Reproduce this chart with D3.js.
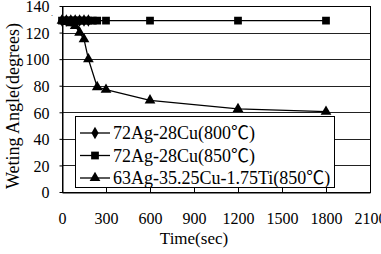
<!DOCTYPE html>
<head>
<meta charset="utf-8">
<style>
  body { margin: 0; background: #fff; }
  svg text { font-family: 'Liberation Serif', 'Noto Sans CJK TC', serif !important; fill: #000; }
  .grid line { stroke: #222; stroke-width: 1; }
  .axis path, .axis line { stroke: #000; }
</style>
<title>Wetting angle vs time</title>
</head>
<body>
<svg width="381" height="254"></svg>
<script src="https://cdn.jsdelivr.net/npm/d3@7"></script>
<script>

// data
var times800 = [0, 30, 60, 90, 120, 150, 180];
var angle800 = [129, 129, 129, 129, 129, 129, 129];

var times850 = [0, 15, 30, 45, 60, 75, 90, 105, 120, 150, 180, 210, 240, 300, 600, 1200, 1800];
var angle850 = [129, 129, 129, 129, 129, 129, 129, 129, 129, 129, 129, 129, 129, 129, 129, 129, 129];

var timesTi = [0, 30, 60, 90, 120, 150, 180, 240, 300, 600, 1200, 1800];
var angleTi = [129, 128, 127, 125, 120, 115, 100, 79, 77, 69, 62.5, 60.5];

var seriesNames = ["72Ag-28Cu(800℃)", "72Ag-28Cu(850℃)", "63Ag-35.25Cu-1.75Ti(850℃)"];
var xTicks = [0, 300, 600, 900, 1200, 1500, 1800, 2100];
var yTicks = [0, 20, 40, 60, 80, 100, 120, 140];

var svg = d3.select("svg"),
    margin = {top: 6, right: 11, bottom: 62, left: 62},
    width = +svg.attr("width") - margin.left - margin.right,
    height = +svg.attr("height") - margin.top - margin.bottom;

var x = d3.scaleLinear().domain([0, 2100]).range([0, width]),
    y = d3.scaleLinear().domain([0, 140]).range([height, 0]);

var g = svg.append("g")
    .attr("transform", "translate(" + margin.left + "," + margin.top + ")");

// horizontal grid
g.append("g").attr("class", "grid")
  .selectAll("line")
  .data(yTicks)
  .enter().append("line")
    .attr("x1", 0).attr("x2", width)
    .attr("y1", function(d) { return Math.round(y(d)) + 0.5; })
    .attr("y2", function(d) { return Math.round(y(d)) + 0.5; });

// frame
g.append("rect")
    .attr("x", 0.5).attr("y", 0.5)
    .attr("width", width).attr("height", height)
    .attr("fill", "none").attr("stroke", "#000");

// bottom axis, ticks pointing in
g.append("g")
    .attr("class", "axis")
    .attr("transform", "translate(0," + (Math.round(height) + 0.5) + ")")
    .call(d3.axisBottom(x).tickValues(xTicks).tickFormat(d3.format("d"))
      .tickSizeInner(-5).tickSizeOuter(0).tickPadding(20))
    .call(function(s) { s.selectAll("text").attr("font-size", 16); });

// left axis
g.append("g")
    .attr("class", "axis")
    .attr("transform", "translate(0.5,0)")
    .call(d3.axisLeft(y).tickValues(yTicks).tickSizeInner(3).tickSizeOuter(0).tickPadding(10))
    .call(function(s) { s.selectAll("text").attr("font-size", 16).attr("dy", "0.36em"); });

// series
var line = d3.line()
    .x(function(d) { return x(d[0]); })
    .y(function(d) { return y(d[1]); });

var series = [
  {name: seriesNames[0], pts: d3.zip(times800, angle800), sym: d3.symbolDiamond, size: 45},
  {name: seriesNames[1], pts: d3.zip(times850, angle850), sym: d3.symbolSquare, size: 60},
  {name: seriesNames[2], pts: d3.zip(timesTi, angleTi), sym: d3.symbolTriangle, size: 50}
];

series.forEach(function(s) {
  g.append("path")
      .datum(s.pts)
      .attr("fill", "none")
      .attr("stroke", "#000")
      .attr("stroke-width", 1.3)
      .attr("d", line);
  g.selectAll(null)
    .data(s.pts)
    .enter().append("path")
      .attr("d", d3.symbol().type(s.sym).size(s.size))
      .attr("transform", function(d) { return "translate(" + x(d[0]) + "," + y(d[1]) + ")"; })
      .attr("fill", "#000");
});

// legend
var lg = g.append("g").attr("transform", "translate(13,110)");
lg.append("rect")
    .attr("x", 0.5).attr("y", 0.5)
    .attr("width", 259).attr("height", 71)
    .attr("fill", "#fff").attr("stroke", "#000");

series.forEach(function(s, i) {
  var yy = 17 + i * 22.5;
  lg.append("line")
      .attr("x1", 5).attr("x2", 35)
      .attr("y1", yy).attr("y2", yy)
      .attr("stroke", "#000").attr("stroke-width", 1.3);
  lg.append("path")
      .attr("d", d3.symbol().type(s.sym).size(s.size))
      .attr("transform", "translate(20," + yy + ")");
  lg.append("text")
      .attr("x", 38).attr("y", yy)
      .attr("dy", "0.35em")
      .attr("font-size", 18)
      .text(s.name);
});

// axis titles
svg.append("text")
    .attr("x", margin.left + x(900))
    .attr("y", 244)
    .attr("text-anchor", "middle")
    .attr("font-size", 17)
    .text("Time(sec)");

svg.append("text")
    .attr("transform", "translate(19,106) rotate(-90)")
    .attr("text-anchor", "middle")
    .attr("font-size", 18)
    .text("Weting Angle(degrees)");

// stray dot next to the top label
svg.append("text")
    .attr("x", 51).attr("y", 16)
    .attr("font-size", 8)
    .attr("fill", "#555")
    .text(".");

</script>
</body>
